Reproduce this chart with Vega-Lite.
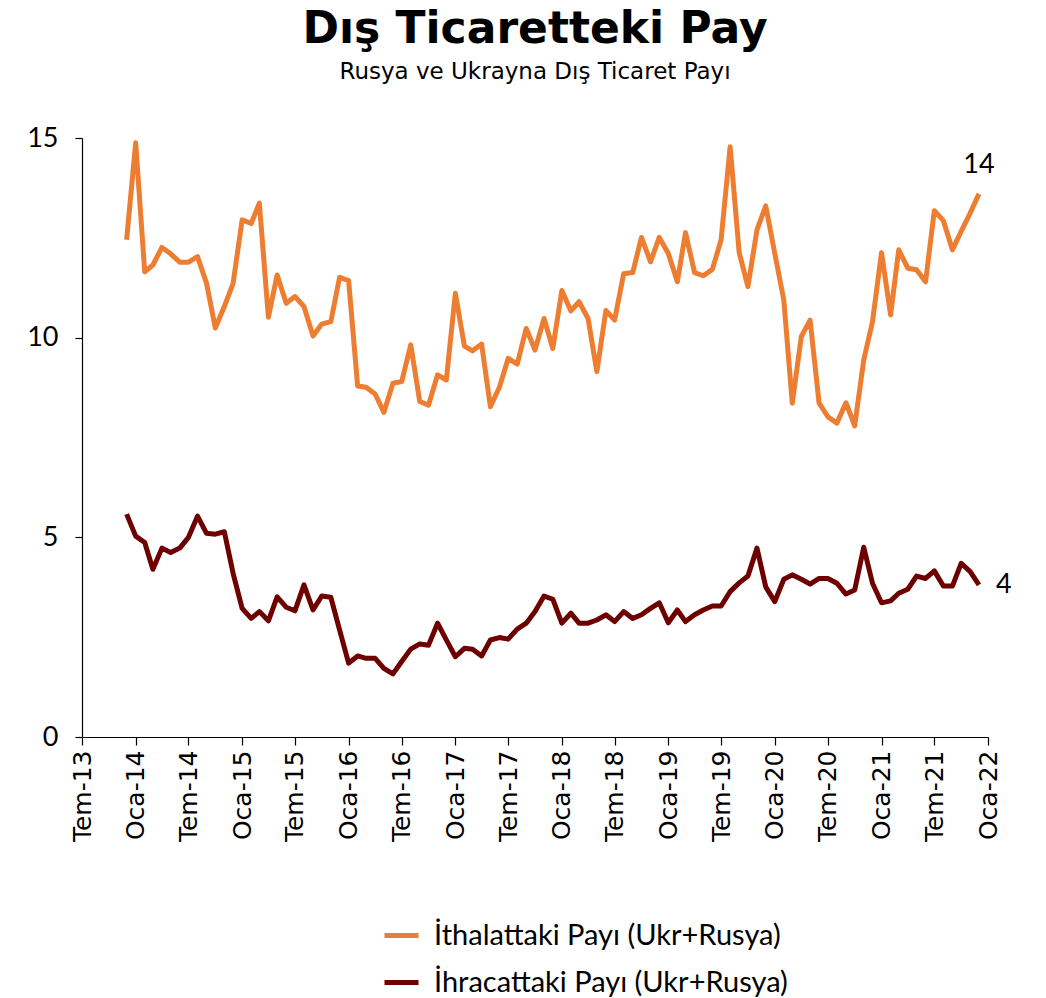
{
  "$schema": "https://vega.github.io/schema/vega-lite/v6.json",
  "width": 906,
  "height": 599,
  "autosize": {"type": "none"},
  "padding": {"left": 82, "top": 138, "right": 58, "bottom": 261},
  "background": "white",
  "title": {
    "text": "Dış Ticaretteki Pay",
    "subtitle": "Rusya ve Ukrayna Dış Ticaret Payı",
    "anchor": "middle",
    "frame": "group",
    "font": "DejaVu Sans",
    "fontSize": 44,
    "fontWeight": "bold",
    "color": "#000000",
    "subtitleFont": "DejaVu Sans",
    "subtitleFontSize": 23,
    "subtitleColor": "#000000",
    "subtitlePadding": 9,
    "offset": 40
  },
  "config": {
    "view": {"stroke": null},
    "axis": {"grid": false, "domainColor": "#000000", "tickColor": "#000000", "labelColor": "#000000", "domainWidth": 1.2, "tickWidth": 1.2}
  },
  "data": {
    "values": [
      {"tarih": "2013-12-01", "ithalat": 12.45, "ihracat": 5.58},
      {"tarih": "2014-01-01", "ithalat": 14.88, "ihracat": 5.03},
      {"tarih": "2014-02-01", "ithalat": 11.65, "ihracat": 4.87},
      {"tarih": "2014-03-01", "ithalat": 11.82, "ihracat": 4.20},
      {"tarih": "2014-04-01", "ithalat": 12.26, "ihracat": 4.73},
      {"tarih": "2014-05-01", "ithalat": 12.10, "ihracat": 4.62},
      {"tarih": "2014-06-01", "ithalat": 11.89, "ihracat": 4.73},
      {"tarih": "2014-07-01", "ithalat": 11.89, "ihracat": 5.00},
      {"tarih": "2014-08-01", "ithalat": 12.03, "ihracat": 5.53},
      {"tarih": "2014-09-01", "ithalat": 11.36, "ihracat": 5.10},
      {"tarih": "2014-10-01", "ithalat": 10.24, "ihracat": 5.08},
      {"tarih": "2014-11-01", "ithalat": 10.78, "ihracat": 5.14},
      {"tarih": "2014-12-01", "ithalat": 11.36, "ihracat": 4.10},
      {"tarih": "2015-01-01", "ithalat": 12.95, "ihracat": 3.22},
      {"tarih": "2015-02-01", "ithalat": 12.86, "ihracat": 2.97},
      {"tarih": "2015-03-01", "ithalat": 13.37, "ihracat": 3.14},
      {"tarih": "2015-04-01", "ithalat": 10.51, "ihracat": 2.91},
      {"tarih": "2015-05-01", "ithalat": 11.57, "ihracat": 3.51},
      {"tarih": "2015-06-01", "ithalat": 10.86, "ihracat": 3.25},
      {"tarih": "2015-07-01", "ithalat": 11.03, "ihracat": 3.16},
      {"tarih": "2015-08-01", "ithalat": 10.78, "ihracat": 3.81},
      {"tarih": "2015-09-01", "ithalat": 10.04, "ihracat": 3.18},
      {"tarih": "2015-10-01", "ithalat": 10.34, "ihracat": 3.53},
      {"tarih": "2015-11-01", "ithalat": 10.40, "ihracat": 3.50},
      {"tarih": "2015-12-01", "ithalat": 11.51, "ihracat": 2.68},
      {"tarih": "2016-01-01", "ithalat": 11.43, "ihracat": 1.85},
      {"tarih": "2016-02-01", "ithalat": 8.79, "ihracat": 2.03},
      {"tarih": "2016-03-01", "ithalat": 8.76, "ihracat": 1.97},
      {"tarih": "2016-04-01", "ithalat": 8.59, "ihracat": 1.97},
      {"tarih": "2016-05-01", "ithalat": 8.13, "ihracat": 1.72},
      {"tarih": "2016-06-01", "ithalat": 8.86, "ihracat": 1.58},
      {"tarih": "2016-07-01", "ithalat": 8.90, "ihracat": 1.89},
      {"tarih": "2016-08-01", "ithalat": 9.82, "ihracat": 2.20},
      {"tarih": "2016-09-01", "ithalat": 8.40, "ihracat": 2.33},
      {"tarih": "2016-10-01", "ithalat": 8.31, "ihracat": 2.30},
      {"tarih": "2016-11-01", "ithalat": 9.07, "ihracat": 2.85},
      {"tarih": "2016-12-01", "ithalat": 8.94, "ihracat": 2.43},
      {"tarih": "2017-01-01", "ithalat": 11.11, "ihracat": 2.01},
      {"tarih": "2017-02-01", "ithalat": 9.79, "ihracat": 2.22},
      {"tarih": "2017-03-01", "ithalat": 9.67, "ihracat": 2.20},
      {"tarih": "2017-04-01", "ithalat": 9.84, "ihracat": 2.03},
      {"tarih": "2017-05-01", "ithalat": 8.27, "ihracat": 2.43},
      {"tarih": "2017-06-01", "ithalat": 8.76, "ihracat": 2.49},
      {"tarih": "2017-07-01", "ithalat": 9.48, "ihracat": 2.45},
      {"tarih": "2017-08-01", "ithalat": 9.34, "ihracat": 2.70},
      {"tarih": "2017-09-01", "ithalat": 10.23, "ihracat": 2.85},
      {"tarih": "2017-10-01", "ithalat": 9.69, "ihracat": 3.14},
      {"tarih": "2017-11-01", "ithalat": 10.48, "ihracat": 3.53},
      {"tarih": "2017-12-01", "ithalat": 9.73, "ihracat": 3.45},
      {"tarih": "2018-01-01", "ithalat": 11.18, "ihracat": 2.85},
      {"tarih": "2018-02-01", "ithalat": 10.67, "ihracat": 3.10},
      {"tarih": "2018-03-01", "ithalat": 10.90, "ihracat": 2.85},
      {"tarih": "2018-04-01", "ithalat": 10.48, "ihracat": 2.85},
      {"tarih": "2018-05-01", "ithalat": 9.15, "ihracat": 2.93},
      {"tarih": "2018-06-01", "ithalat": 10.68, "ihracat": 3.06},
      {"tarih": "2018-07-01", "ithalat": 10.44, "ihracat": 2.89},
      {"tarih": "2018-08-01", "ithalat": 11.60, "ihracat": 3.14},
      {"tarih": "2018-09-01", "ithalat": 11.63, "ihracat": 2.97},
      {"tarih": "2018-10-01", "ithalat": 12.51, "ihracat": 3.06},
      {"tarih": "2018-11-01", "ithalat": 11.90, "ihracat": 3.22},
      {"tarih": "2018-12-01", "ithalat": 12.51, "ihracat": 3.36},
      {"tarih": "2019-01-01", "ithalat": 12.11, "ihracat": 2.86},
      {"tarih": "2019-02-01", "ithalat": 11.40, "ihracat": 3.18},
      {"tarih": "2019-03-01", "ithalat": 12.63, "ihracat": 2.89},
      {"tarih": "2019-04-01", "ithalat": 11.63, "ihracat": 3.06},
      {"tarih": "2019-05-01", "ithalat": 11.55, "ihracat": 3.18},
      {"tarih": "2019-06-01", "ithalat": 11.71, "ihracat": 3.28},
      {"tarih": "2019-07-01", "ithalat": 12.45, "ihracat": 3.28},
      {"tarih": "2019-08-01", "ithalat": 14.78, "ihracat": 3.64},
      {"tarih": "2019-09-01", "ithalat": 12.13, "ihracat": 3.86},
      {"tarih": "2019-10-01", "ithalat": 11.28, "ihracat": 4.03},
      {"tarih": "2019-11-01", "ithalat": 12.70, "ihracat": 4.73},
      {"tarih": "2019-12-01", "ithalat": 13.30, "ihracat": 3.76},
      {"tarih": "2020-01-01", "ithalat": 12.11, "ihracat": 3.39},
      {"tarih": "2020-02-01", "ithalat": 10.94, "ihracat": 3.95},
      {"tarih": "2020-03-01", "ithalat": 8.36, "ihracat": 4.06},
      {"tarih": "2020-04-01", "ithalat": 10.03, "ihracat": 3.95},
      {"tarih": "2020-05-01", "ithalat": 10.44, "ihracat": 3.83},
      {"tarih": "2020-06-01", "ithalat": 8.36, "ihracat": 3.97},
      {"tarih": "2020-07-01", "ithalat": 8.02, "ihracat": 3.97},
      {"tarih": "2020-08-01", "ithalat": 7.86, "ihracat": 3.85},
      {"tarih": "2020-09-01", "ithalat": 8.37, "ihracat": 3.58},
      {"tarih": "2020-10-01", "ithalat": 7.79, "ihracat": 3.68},
      {"tarih": "2020-11-01", "ithalat": 9.44, "ihracat": 4.75},
      {"tarih": "2020-12-01", "ithalat": 10.40, "ihracat": 3.85},
      {"tarih": "2021-01-01", "ithalat": 12.13, "ihracat": 3.36},
      {"tarih": "2021-02-01", "ithalat": 10.57, "ihracat": 3.41},
      {"tarih": "2021-03-01", "ithalat": 12.20, "ihracat": 3.60},
      {"tarih": "2021-04-01", "ithalat": 11.74, "ihracat": 3.70},
      {"tarih": "2021-05-01", "ithalat": 11.70, "ihracat": 4.03},
      {"tarih": "2021-06-01", "ithalat": 11.40, "ihracat": 3.97},
      {"tarih": "2021-07-01", "ithalat": 13.18, "ihracat": 4.16},
      {"tarih": "2021-08-01", "ithalat": 12.93, "ihracat": 3.78},
      {"tarih": "2021-09-01", "ithalat": 12.20, "ihracat": 3.78},
      {"tarih": "2021-10-01", "ithalat": 12.66, "ihracat": 4.35},
      {"tarih": "2021-11-01", "ithalat": 13.12, "ihracat": 4.14},
      {"tarih": "2021-12-01", "ithalat": 13.60, "ihracat": 3.81}
    ]
  },
  "transform": [
    {"fold": ["ithalat", "ihracat"], "as": ["seri", "deger"]}
  ],
  "encoding": {
    "x": {
      "field": "tarih",
      "type": "temporal",
      "scale": {
        "type": "utc",
        "domain": [
          {"year": 2013, "month": "jul", "date": 1, "utc": true},
          {"year": 2022, "month": "jan", "date": 1, "utc": true}
        ]
      },
      "axis": {
        "title": null,
        "tickCount": {"interval": "month", "step": 6},
        "labelExpr": "(utcmonth(datum.value) == 0 ? 'Oca-' : 'Tem-') + utcFormat(datum.value, '%y')",
        "labelAngle": 270,
        "labelAlign": "right",
        "labelBaseline": "middle",
        "labelFont": "DejaVu Sans",
        "labelFontSize": 25,
        "labelPadding": 5,
        "tickSize": 8,
        "labelOverlap": false,
        "labelFlush": false,
        "labelBound": false
      }
    },
    "y": {
      "field": "deger",
      "type": "quantitative",
      "scale": {"domain": [0, 15], "nice": false, "zero": true},
      "axis": {
        "title": null,
        "values": [0, 5, 10, 15],
        "labelFont": "Lato",
        "labelFontSize": 27,
        "tickSize": 7,
        "labelPadding": 17
      }
    }
  },
  "layer": [
    {
      "mark": {"type": "line", "strokeWidth": 5, "strokeJoin": "round", "strokeCap": "butt"},
      "encoding": {
        "color": {
          "field": "seri",
          "type": "nominal",
          "scale": {"domain": ["ithalat", "ihracat"], "range": ["#ED7D31", "#6E0000"]},
          "legend": {
            "orient": "none",
            "legendX": 300,
            "legendY": 778,
            "direction": "vertical",
            "title": null,
            "padding": 0,
            "symbolType": "stroke",
            "symbolSize": 1156,
            "symbolStrokeWidth": 5,
            "labelOffset": 13,
            "labelFont": "Lato",
            "labelFontSize": 29,
            "labelColor": "#000000",
            "labelLimit": 600,
            "rowPadding": 12,
            "labelExpr": "datum.value == 'ithalat' ? 'İthalattaki Payı (Ukr+Rusya)' : 'İhracattaki Payı (Ukr+Rusya)'"
          }
        }
      }
    },
    {
      "transform": [{"filter": "datum.seri == 'ithalat' && time(datum.tarih) == utc(2021, 11, 1)"}],
      "mark": {"type": "text", "font": "Lato", "fontSize": 27, "color": "#000000", "align": "center", "baseline": "middle", "dy": -29},
      "encoding": {"text": {"field": "deger", "type": "quantitative", "format": ".0f"}}
    },
    {
      "transform": [{"filter": "datum.seri == 'ihracat' && time(datum.tarih) == utc(2021, 11, 1)"}],
      "mark": {"type": "text", "font": "Lato", "fontSize": 27, "color": "#000000", "align": "left", "baseline": "middle", "dx": 17},
      "encoding": {"text": {"field": "deger", "type": "quantitative", "format": ".0f"}}
    }
  ]
}
